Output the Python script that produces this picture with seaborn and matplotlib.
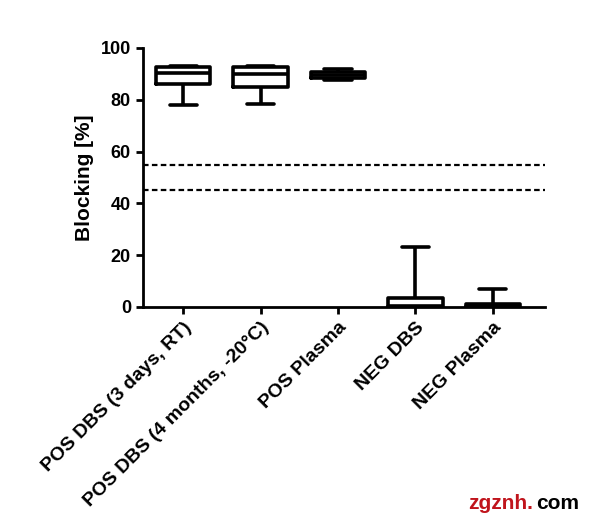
import seaborn as sns
import matplotlib.pyplot as plt
import pandas as pd

# groups and values (min, q1, median, q3, max)
groups = ["POS DBS (3 days, RT)", "POS DBS (4 months, -20°C)", "POS Plasma", "NEG DBS", "NEG Plasma"]
pos_dbs_rt = [78.0, 86.0, 90.5, 92.5, 93.0]
pos_dbs_frozen = [78.5, 85.0, 90.0, 92.5, 93.0]
pos_plasma = [87.5, 88.3, 89.5, 90.8, 91.8]
neg_dbs = [0.0, 0.0, 0.5, 3.5, 23.0]
neg_plasma = [0.0, 0.0, 0.5, 1.2, 7.0]
cutoffs = [45, 55]

values = [pos_dbs_rt, pos_dbs_frozen, pos_plasma, neg_dbs, neg_plasma]
df = pd.DataFrame({
    "group": [g for g, v in zip(groups, values) for _ in v],
    "blocking": [x for v in values for x in v],
})

sns.set_style("ticks", {"axes.edgecolor": "black", "text.color": "black",
                        "axes.labelcolor": "black", "xtick.color": "black",
                        "ytick.color": "black"})
plt.rcParams['font.family'] = ['Liberation Sans', 'DejaVu Sans']
plt.rcParams['font.weight'] = 'bold'

fig = plt.figure(figsize=(6, 5.27), dpi=100)
ax = fig.add_axes([0.238, 0.4175, 0.67, 0.4915])

sns.boxplot(data=df, x="group", y="blocking", order=groups, whis=(0, 100),
            color="black", fill=False, width=0.7, linewidth=2.6, ax=ax)

for c in cutoffs:
    ax.axhline(c, color="black", lw=1.6, ls=(0, (2.5, 1.5)), zorder=0)

ax.set_ylim(0, 100)
ax.set_xlim(-0.52, 4.67)
ax.set_yticks([0, 20, 40, 60, 80, 100])
ax.set_ylabel("Blocking [%]", fontsize=15, fontweight='bold', labelpad=5)
ax.set_xlabel("")
sns.despine(ax=ax)
for s in ["left", "bottom"]:
    ax.spines[s].set_linewidth(2)
ax.tick_params(width=2, length=5, labelsize=13)
plt.setp(ax.get_xticklabels(), rotation=45, ha="right", rotation_mode="anchor", fontsize=14)

fig.text(0.78, 0.035, "zgznh.", color="#c0141c", fontsize=15, fontweight='bold')
fig.text(0.893, 0.035, "com", color="black", fontsize=15, fontweight='bold')

plt.savefig("out.png", dpi=100)
